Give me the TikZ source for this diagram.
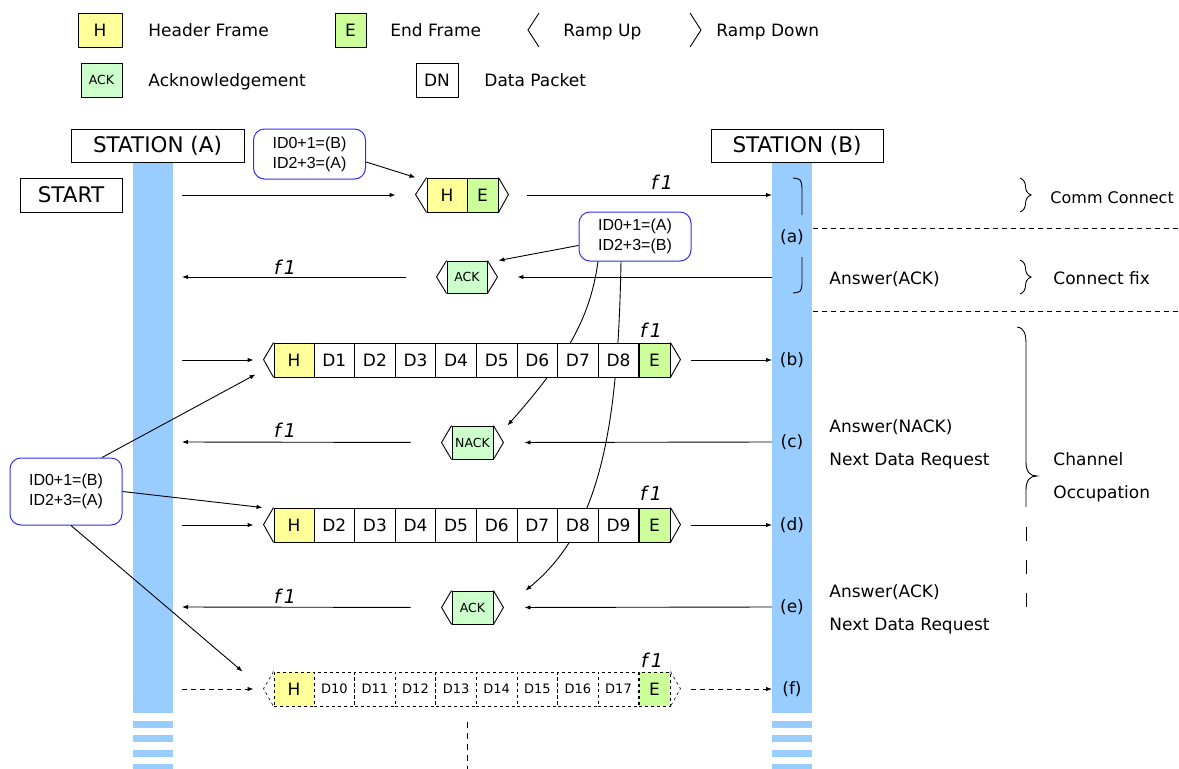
\documentclass[tikz,border=0pt]{standalone}
\usepackage{fontspec}
\setmainfont{DejaVu Sans}
\newfontfamily\arialfont{Liberation Sans}
\usepackage{tikz}
\usetikzlibrary{arrows.meta,calc,decorations.pathreplacing}
\definecolor{hyellow}{HTML}{FFFF99}
\definecolor{egreen}{HTML}{CCFF99}
\definecolor{ackgreen}{HTML}{CCFFCC}
\definecolor{barblue}{HTML}{99CCFF}
\definecolor{callblue}{HTML}{3030F0}

\tikzset{
  cell/.style={draw,line width=0.9pt,minimum height=34pt,inner sep=0pt,font=\fontsize{17}{17}\selectfont},
  hcell/.style={cell,fill=hyellow,minimum width=40pt},
  ecell/.style={cell,fill=egreen,minimum width=31pt},
  dcell/.style={cell,fill=white,minimum width=40.6pt},
  ackcell/.style={cell,fill=ackgreen,minimum width=41pt,minimum height=33pt,font=\fontsize{12.5}{12.5}\selectfont},
  callout/.style={draw=callblue,line width=1pt,rounded corners=11pt,fill=white,align=left,minimum width=112pt,font=\arialfont\fontsize{16}{20}\selectfont},
  stationbox/.style={draw,line width=0.9pt,fill=white,minimum height=33pt,inner sep=0pt,font=\fontsize{21.5}{21.5}\selectfont},
  lbl/.style={anchor=west,inner sep=0pt,text height=12.5pt,text depth=0pt,font=\fontsize{17}{17}\selectfont},
  freq/.style={inner sep=0pt,font=\itshape\fontsize{19}{19}\selectfont},
  rowlbl/.style={inner sep=0pt,font=\fontsize{17}{17}\selectfont},
}

\begin{document}
\begin{tikzpicture}[x=1pt,y=-1pt,>={Latex[length=6pt,width=4.5pt]},line width=0.9pt]
\useasboundingbox (0,0) rectangle (1179,769);
% station bars
\foreach \x in {133,772} {
  \fill[barblue] (\x,161) rectangle ++(40,552);
  \foreach \y in {721,735,750,764}
    \fill[barblue] (\x,\y) rectangle ++(40,7);
}
% legend
\node[hcell,minimum width=44pt] (legH) at (100,30) {H};
\node[lbl] (legHtxt) at (148,30) {Header Frame};
\node[ecell] (legE) at (350.5,30) {E};
\node[lbl] (legEtxt) at (390,30) {End Frame};
\draw (539,13) -- (528,30) -- (539,47);
\node[lbl] (legUp) at (563,30) {Ramp Up};
\draw (690,13) -- (701,30) -- (690,47);
\node[lbl] (legDown) at (716,30) {Ramp Down};
\node[ackcell,minimum height=34pt] (legAck) at (101.5,80) {ACK};
\node[lbl] (legAcktxt) at (148,80) {Acknowledgement};
\node[cell,minimum width=42pt] (legDN) at (437,80) {DN};
\node[lbl] (legDNtxt) at (484,80) {Data Packet};
% stations
\node[stationbox,minimum width=173pt] (staA) at (157.5,145.5) {STATION (A)};
\node[stationbox,minimum width=172pt] (staB) at (797,145.5) {STATION (B)};
\node[stationbox,minimum width=102pt,minimum height=34pt] (start) at (71,195) {START};
% callouts
\node[callout,minimum height=50pt] (c1) at (309.5,154) {ID0+1=(B)\\ID2+3=(A)};
\node[callout,minimum height=49pt] (c2) at (635,236.5) {ID0+1=(A)\\ID2+3=(B)};
\node[callout,minimum height=67pt] (c3) at (66,491.5) {ID0+1=(B)\\ID2+3=(A)};
% acknowledgements
\node[ackcell,minimum width=40pt,minimum height=32pt] (ack1) at (467,277) {ACK};
\node[ackcell] (nack) at (472.5,442.5) {NACK};
\node[ackcell] (ack2) at (472.5,607.5) {ACK};
\foreach \a in {ack1,nack,ack2} {
  \draw (\a.north west) -- ($(\a.west)+(-10,0)$) -- (\a.south west);
  \draw (\a.north east) -- ($(\a.east)+(10,0)$) -- (\a.south east);
  \coordinate (\a L) at ($(\a.west)+(-10,0)$);
  \coordinate (\a R) at ($(\a.east)+(10,0)$);
}
% id lines behind the packets
\draw[->] (c2.-171) -- ([xshift=11pt]ack1.north east);
\draw[->] ($(c2.south)+(-37,0)$) .. controls (590,320) and (565,360) .. ([xshift=14pt]nack.north east);
\draw[->] ($(c2.south)+(-14,0)$) .. controls (618,430) and (600,530) .. ([xshift=32pt]ack2.north east);
% header + end
\node[hcell] (p1H) at (447,195) {H};
\node[ecell] (p1E) at (482.5,195) {E};
\draw (p1H.north west) -- ++(-11,17) -- (p1H.south west);
\draw (p1E.north east) -- ++(10,17) -- (p1E.south east);
\coordinate (p1L) at ($(p1H.west)+(-11,0)$);
\coordinate (p1R) at ($(p1E.east)+(10,0)$);
% data packets
\node[hcell] (bH) at (294,360) {H};
\foreach \n [count=\i] in {1,...,8}
  \node[dcell] (b\i) at ({314+40.6*(\i-0.5)},360) {D\n};
\node[ecell] (bE) at (654.5,360) {E};
\node[hcell] (dH) at (294,525) {H};
\foreach \n [count=\i] in {2,...,9}
  \node[dcell] (d\i) at ({314+40.6*(\i-0.5)},525) {D\n};
\node[ecell] (dE) at (654.5,525) {E};
\node[hcell,dashed] (fH) at (294,689) {H};
\foreach \n [count=\i] in {10,...,17}
  \node[dcell,dashed,font=\fontsize{13}{13}\selectfont] (f\i) at ({314+40.6*(\i-0.5)},689) {D\n};
\node[ecell,dashed] (fE) at (654.5,689) {E};
\foreach \r in {b,d} {
  \draw (\r H.north west) -- ++(-10,17) -- (\r H.south west);
  \draw (\r E.north east) -- ++(10,17) -- (\r E.south east);
}
\draw[dashed,line width=0.6pt] (fH.north west) -- ++(-10,17) -- (fH.south west);
\draw[dashed,line width=0.6pt] (fE.north east) -- ++(10,17) -- (fE.south east);
\foreach \r in {b,d,f} {
  \coordinate (\r L) at ($(\r H.west)+(-10,0)$);
  \coordinate (\r R) at ($(\r E.east)+(10,0)$);
}
% bar edges
\foreach \r/\y in {1/195,2/277,b/360,c/442,d/525,e/607,f/689} {
  \coordinate (A\r) at (182,\y);
  \coordinate (B\r) at (772,\y);
}
% transmissions
\draw[->,shorten >=20pt] (A1) -- (p1L);
\draw[->,shorten <=19pt] (p1R) -- (B1);
\draw[->,shorten <=31pt] (ack1L) -- (A2);
\draw[->,shorten >=20pt] (B2) -- (ack1R);
\draw[->,shorten >=10pt] (Ab) -- (bL);
\draw[->,shorten <=11pt] (bR) -- (Bb);
\draw[->,shorten <=31pt] (nackL) -- (Ac);
\draw[->,shorten >=21pt] (Bc) -- (nackR);
\draw[->,shorten >=10pt] (Ad) -- (dL);
\draw[->,shorten <=11pt] (dR) -- (Bd);
\draw[->,shorten <=31pt] (ack2L) -- (Ae);
\draw[->,shorten >=21pt] (Be) -- (ack2R);
\draw[->,dash pattern=on 5pt off 4pt,shorten >=10pt] (Af) -- (fL);
\draw[->,dash pattern=on 5pt off 4pt,shorten <=11pt] (fR) -- (Bf);
% id lines from station A side
\draw[->] (c1.-8) -- ([xshift=-11pt]p1H.north west);
\draw[->] ($(c3.north)+(36,0)$) -- ([xshift=-18pt,yshift=3pt]bH.south west);
\draw[->] (c3.east) -- ([xshift=-11pt]dH.north west);
\draw[->] ($(c3.south)+(5,0)$) -- ([xshift=-31pt]fH.north west);
\draw[dash pattern=on 6pt off 5pt] (467,722) -- (467,769);
% f1 labels
\node[freq] (fq1) at (662,182) {f\,1};
\node[freq] (fq2) at (285,267) {f\,1};
\node[freq] (fqb) at (651,330) {f\,1};
\node[freq] (fqc) at (285,430) {f\,1};
\node[freq] (fqd) at (651,493) {f\,1};
\node[freq] (fqe) at (285,596) {f\,1};
\node[freq] (fqf) at (652,660) {f\,1};
% station B side
\draw (793,178) .. controls (801,179) .. (802,188) -- (802,215);
\draw (802,257) -- (802,284) .. controls (801,292) .. (793,293);
\node[rowlbl] (rowa) at (792,237) {(a)};
\node[rowlbl] (rowb) at (792,360) {(b)};
\node[rowlbl] (rowc) at (792,442) {(c)};
\node[rowlbl] (rowd) at (792,525) {(d)};
\node[rowlbl] (rowe) at (792,607) {(e)};
\node[rowlbl] (rowf) at (792,689) {(f)};
\draw[dash pattern=on 5pt off 4pt,line width=0.7pt] (813,228) -- (1179,228);
\draw[dash pattern=on 5pt off 4pt,line width=0.7pt] (813,311) -- (1179,311);
\node[lbl] (ans1) at (829,278) {Answer(ACK)};
\node[lbl] (ans2) at (829,426) {Answer(NACK)};
\node[lbl] (req2) at (829,459) {Next Data Request};
\node[lbl] (ans3) at (829,591) {Answer(ACK)};
\node[lbl] (req3) at (829,624) {Next Data Request};
\draw[decorate,decoration={brace,amplitude=11pt}] (1020,178) -- (1020,212);
\draw[decorate,decoration={brace,amplitude=11pt}] (1020,260) -- (1020,294);
\draw (1017,327) .. controls (1025,328) and (1026,335) .. (1026,345) -- (1026,462)
  .. controls (1026,472) and (1030,476) .. (1037,476)
  .. controls (1030,476) and (1026,480) .. (1026,490) -- (1026,507);
\draw[dash pattern=on 14pt off 19pt] (1026,527) -- (1026,607);
\node[lbl,font=\fontsize{16}{16}\selectfont] (comm) at (1050,197) {Comm Connect};
\node[lbl] (fix) at (1053,278) {Connect fix};
\node[lbl] (chan) at (1053,459) {Channel};
\node[lbl] (occ) at (1053,492) {Occupation};
\end{tikzpicture}
\end{document}
